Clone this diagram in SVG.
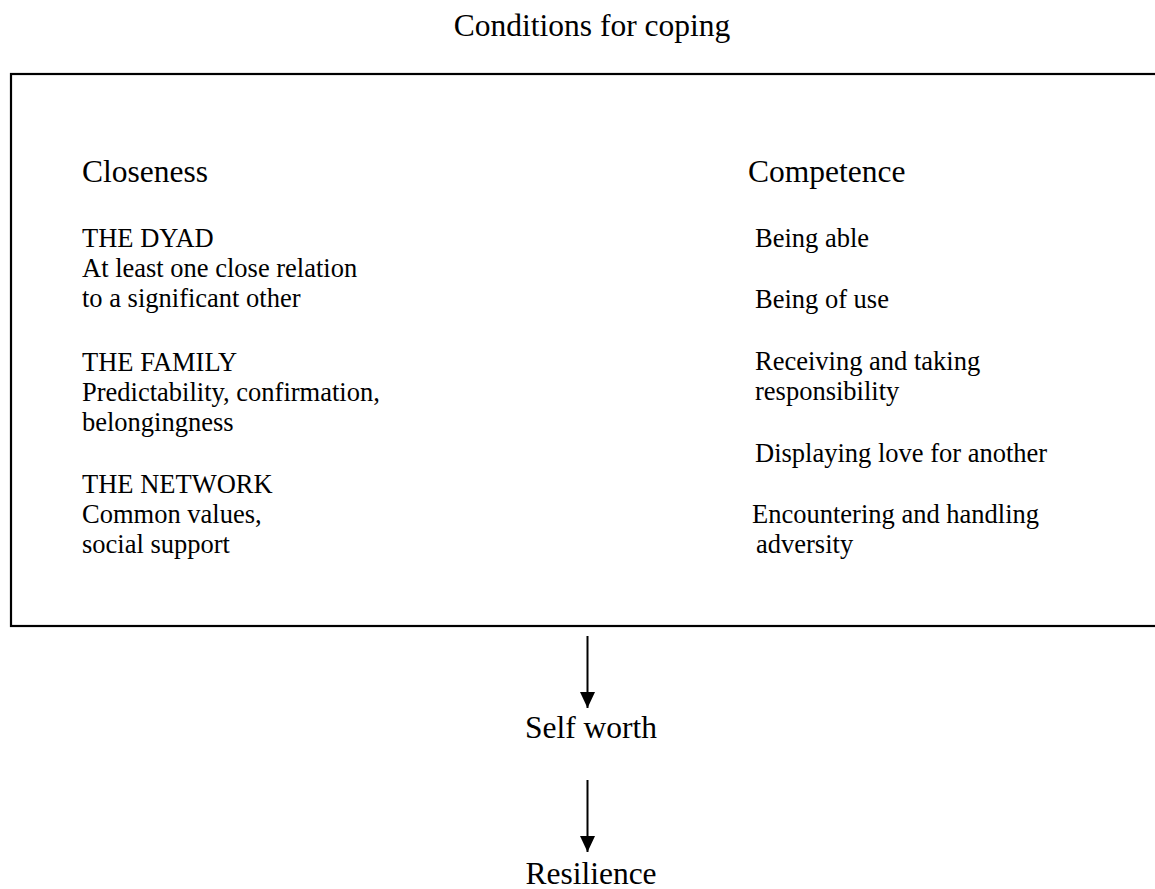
<svg xmlns="http://www.w3.org/2000/svg" width="1155" height="889" viewBox="0 0 1155 889">
<defs>
<style>
text { font-family: "Liberation Serif", "DejaVu Serif", serif; fill: #000; }
.head { font-size: 31.5px; }
.body { font-size: 26.5px; }
.edge { stroke: #000; stroke-width: 2; fill: none; }
.box { stroke: #000; stroke-width: 2.2; fill: #fff; }
</style>
<marker id="arrow" viewBox="0 0 16 15" refX="16" refY="7.5" markerWidth="16" markerHeight="15" markerUnits="userSpaceOnUse" orient="auto">
<path d="M0,0 L16,7.5 L0,15 Z" fill="#000"/>
</marker>
</defs>
<rect width="1155" height="889" fill="#fff"/>
<g id="title" font-family="Liberation Serif, serif">
<text class="head" x="592" y="36" text-anchor="middle">Conditions for coping</text>
</g>
<g id="conditions" font-family="Liberation Serif, serif">
<rect class="box" x="11" y="74" width="1160" height="552"/>
<text class="head" x="82" y="182">Closeness</text>
<text class="body" x="82" y="247">THE DYAD</text>
<text class="body" x="82" y="277">At least one close relation</text>
<text class="body" x="82" y="307">to a significant other</text>
<text class="body" x="82" y="371">THE FAMILY</text>
<text class="body" x="82" y="401">Predictability, confirmation,</text>
<text class="body" x="82" y="431">belongingness</text>
<text class="body" x="82" y="493">THE NETWORK</text>
<text class="body" x="82" y="523">Common values,</text>
<text class="body" x="82" y="553">social support</text>
<text class="head" x="748" y="182">Competence</text>
<text class="body" x="755" y="247">Being able</text>
<text class="body" x="755" y="308">Being of use</text>
<text class="body" x="755" y="370">Receiving and taking</text>
<text class="body" x="755" y="400">responsibility</text>
<text class="body" x="755" y="462">Displaying love for another</text>
<text class="body" x="752" y="523">Encountering and handling</text>
<text class="body" x="756" y="553">adversity</text>
</g>
<g id="selfworth" font-family="Liberation Serif, serif">
<text class="head" x="591" y="738" text-anchor="middle">Self worth</text>
</g>
<g id="resilience" font-family="Liberation Serif, serif">
<text class="head" x="591" y="884" text-anchor="middle">Resilience</text>
</g>
<g id="connectors">
<line class="edge" x1="587.5" y1="636" x2="587.5" y2="708" marker-end="url(#arrow)"/>
<line class="edge" x1="587.5" y1="780" x2="587.5" y2="852" marker-end="url(#arrow)"/>
</g>
</svg>
